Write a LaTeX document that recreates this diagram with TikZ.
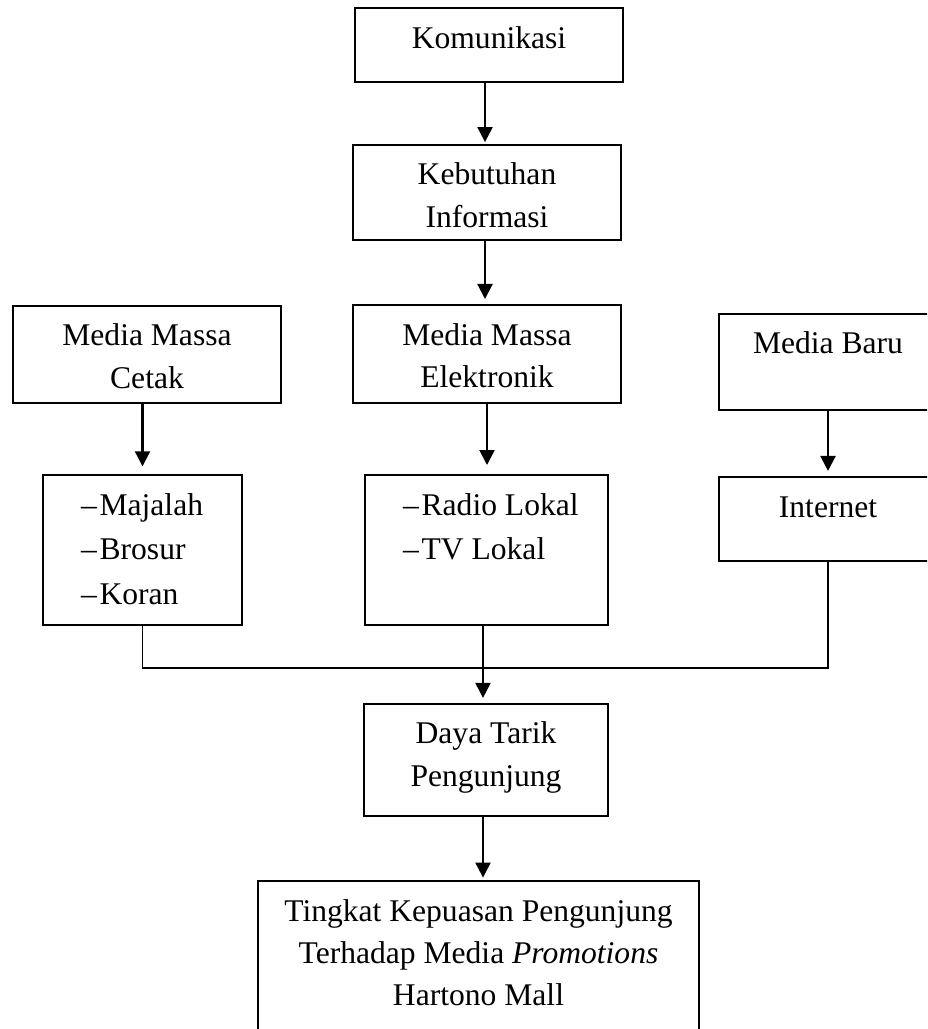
\documentclass[tikz,border=0pt]{standalone}
\usepackage{fontspec}
\setmainfont{Liberation Serif}
\usepackage{tikz}
\usetikzlibrary{arrows.meta, positioning}
\newcommand{\isi}[3]{\parbox[c][#2][t]{#1}{\centering\rule{0pt}{15.2pt}#3}}
\newcommand{\daftar}[3]{\parbox[c][#2][t]{#1}{\raggedright\leftskip=14.5pt\baselineskip=17pt\rule{0pt}{15.2pt}#3}}
\tikzset{
  kotak/.style={rectangle, draw=black, line width=0.6pt, inner sep=0pt,
    font=\fontsize{12}{16}\selectfont},
  panah/.style={-{Triangle[length=5.7pt, width=5.7pt]}, line width=0.8pt},
  garis/.style={line width=0.5pt},
}
\begin{document}
\begin{tikzpicture}[x=0.38pt, y=-0.38pt]
    \useasboundingbox (0,0) rectangle (927,1029);
    \clip (0,0) rectangle (927,1029);
    \node[kotak] (komunikasi) at (489,45) {\isi{101.8pt}{28.1pt}{Komunikasi}};
    \node[kotak] (kebutuhan) at (487,192.5) {\isi{101.8pt}{36.1pt}{Kebutuhan\\ Informasi}};
    \node[kotak] (cetak) at (147,354.5) {\isi{101.8pt}{36.9pt}{Media Massa\\ Cetak}};
    \node[kotak] (elektronik) at (487,354) {\isi{101.8pt}{37.2pt}{Media Massa\\ Elektronik}};
    \node[kotak] (baru) at (828,362) {\isi{82.8pt}{36.5pt}{Media Baru}};
    \node[kotak] (majalah) at (142.5,550) {\daftar{75.6pt}{57pt}{--\kern1pt Majalah\\ --\kern1pt Brosur\\ --\kern1pt Koran}};
    \node[kotak] (radio) at (486.5,550) {\daftar{92.3pt}{57pt}{--\kern1pt Radio Lokal\\ --\kern1pt TV Lokal}};
    \node[kotak] (internet) at (828,519) {\isi{82.8pt}{31.9pt}{Internet}};
    \node[kotak] (daya) at (486,760) {\isi{92.7pt}{42.6pt}{Daya Tarik\\ Pengunjung}};
    \node[kotak] (kepuasan) at (478.5,960.5) {\isi{167.6pt}{60.4pt}{Tingkat Kepuasan Pengunjung\\ Terhadap Media \textit{Promotions}\\ Hartono Mall}};
    \coordinate (gabung) at (483,668);

    \draw[panah, shorten >=0.8pt] (komunikasi.south -| 485,0) -- (kebutuhan.north -| 485,0);
    \draw[panah, shorten >=2pt] (kebutuhan.south -| 485,0) -- (elektronik.north -| 485,0);
    \draw[panah, shorten >=3pt] (cetak.south -| majalah.north) -- (majalah.north);
    \draw[panah, shorten >=3.5pt] (elektronik.south) -- (elektronik.south |- radio.north);
    \draw[panah, shorten >=2pt] (baru.south) -- (internet.north);
    \draw[garis] (majalah.south) |- (gabung) -| (internet.south);
    \draw[panah, shorten >=2pt] (radio.south -| gabung) -- (daya.north -| gabung);
    \draw[panah, shorten >=1pt] (daya.south -| gabung) -- (kepuasan.north -| gabung);
  \end{tikzpicture}
\end{document}
